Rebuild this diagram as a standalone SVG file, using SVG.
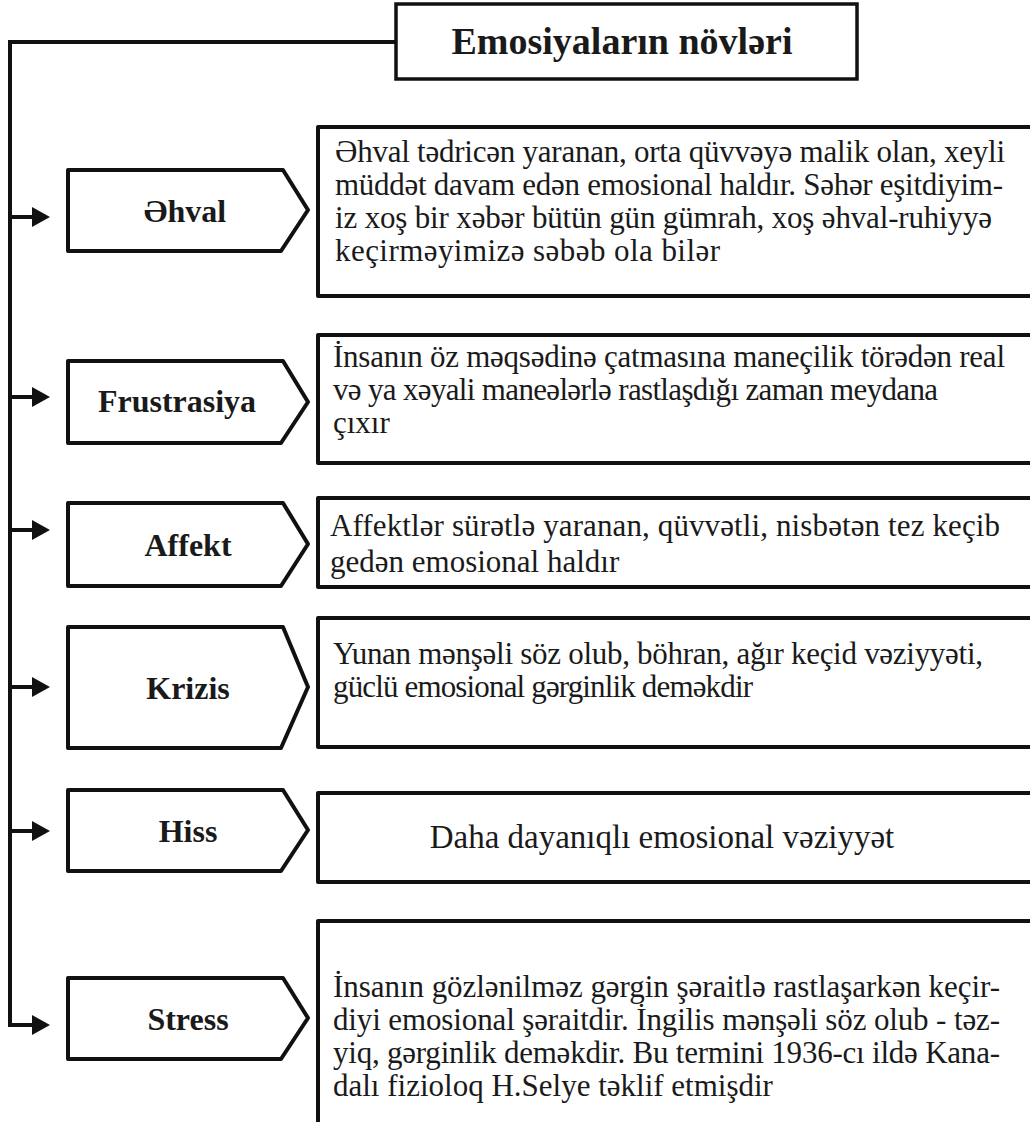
<svg xmlns="http://www.w3.org/2000/svg" width="1030" height="1122" viewBox="0 0 1030 1122">
<style>
  .box { fill: #fff; stroke: #111; stroke-width: 4; stroke-linejoin: round; }
  .title { fill: #fff; stroke: #111; stroke-width: 3.5; }
  .conn { fill: none; stroke: #111; stroke-width: 4; stroke-linejoin: miter; }
  .head { fill: #111; stroke: none; }
  .lbl { font-family: "Liberation Serif", "Times New Roman", serif; font-weight: bold; font-size: 32px; fill: #1a1a1a; text-anchor: middle; }
  .ttl { font-family: "Liberation Serif", "Times New Roman", serif; font-weight: bold; font-size: 38px; fill: #1a1a1a; text-anchor: middle; }
  .desc { font-family: "Liberation Serif", "Times New Roman", Times, serif; font-weight: 400; font-size: 31px; fill: #1a1a1a; }
  .big { font-size: 33px; }
</style>
<rect width="1030" height="1122" fill="#fff"/>

<g id="connectors">
  <path class="conn" d="M396,42 H10 V1025 H34"/>
  <path class="conn" d="M10,217 H34 M10,397 H34 M10,530 H34 M10,687 H34 M10,831 H34"/>
  <polygon class="head" points="32,207 50,217 32,227"/>
  <polygon class="head" points="32,387 50,397 32,407"/>
  <polygon class="head" points="32,520 50,530 32,540"/>
  <polygon class="head" points="32,677 50,687 32,697"/>
  <polygon class="head" points="32,821 50,831 32,841"/>
  <polygon class="head" points="32,1015 50,1025 32,1035"/>
</g>

<g id="title">
  <rect class="title" x="396" y="4" width="461" height="75"/>
  <text class="ttl" x="622" y="54">Emosiyaların növləri</text>
</g>

<g id="ehval">
  <path class="box" d="M68,170 H283 L308,210 L281,251 H68 Z"/>
  <text class="lbl" x="185" y="222">Əhval</text>
</g>
<g id="ehval-desc">
  <rect class="box" x="318" y="127" width="720" height="169"/>
  <text class="desc" x="335" y="162" textLength="670">Əhval tədricən yaranan, orta qüvvəyə malik olan, xeyli</text>
  <text class="desc" x="335" y="195" textLength="668">müddət davam edən emosional haldır. Səhər eşitdiyim-</text>
  <text class="desc" x="335" y="228" textLength="657">iz xoş bir xəbər bütün gün gümrah, xoş əhval-ruhiyyə</text>
  <text class="desc" x="335" y="261" textLength="385">keçirməyimizə səbəb ola bilər</text>
</g>

<g id="frustrasiya">
  <path class="box" d="M68,361 H283 L308,402 L281,443 H68 Z"/>
  <text class="lbl" x="177" y="412">Frustrasiya</text>
</g>
<g id="frustrasiya-desc">
  <rect class="box" x="318" y="335" width="720" height="128"/>
  <text class="desc" x="333" y="367" textLength="672">İnsanın öz məqsədinə çatmasına maneçilik törədən real</text>
  <text class="desc" x="333" y="400" textLength="605">və ya xəyali maneələrlə rastlaşdığı zaman meydana</text>
  <text class="desc" x="333" y="433">çıxır</text>
</g>

<g id="affekt">
  <path class="box" d="M68,503 H283 L308,544 L281,586 H68 Z"/>
  <text class="lbl" x="188" y="556">Affekt</text>
</g>
<g id="affekt-desc">
  <rect class="box" x="318" y="498" width="720" height="89"/>
  <text class="desc" x="330" y="536" textLength="670">Affektlər sürətlə yaranan, qüvvətli, nisbətən tez keçib</text>
  <text class="desc" x="330" y="572">gedən emosional haldır</text>
</g>

<g id="krizis">
  <path class="box" d="M68,627 H283 L308,687 L281,748 H68 Z"/>
  <text class="lbl" x="188" y="699">Krizis</text>
</g>
<g id="krizis-desc">
  <rect class="box" x="318" y="618" width="720" height="129"/>
  <text class="desc" x="333" y="664" textLength="650">Yunan mənşəli söz olub, böhran, ağır keçid vəziyyəti,</text>
  <text class="desc" x="333" y="697" textLength="420">güclü emosional gərginlik deməkdir</text>
</g>

<g id="hiss">
  <path class="box" d="M68,790 H283 L308,830 L281,871 H68 Z"/>
  <text class="lbl" x="188" y="842">Hiss</text>
</g>
<g id="hiss-desc">
  <rect class="box" x="318" y="793" width="720" height="89"/>
  <text class="desc big" x="662" y="848" text-anchor="middle">Daha dayanıqlı emosional vəziyyət</text>
</g>

<g id="stress">
  <path class="box" d="M68,978 H283 L308,1018 L281,1059 H68 Z"/>
  <text class="lbl" x="188" y="1030">Stress</text>
</g>
<g id="stress-desc">
  <rect class="box" x="318" y="921" width="720" height="220"/>
  <text class="desc" x="333" y="997" textLength="667">İnsanın gözlənilməz gərgin şəraitlə rastlaşarkən keçir-</text>
  <text class="desc" x="333" y="1030" textLength="667">diyi emosional şəraitdir. İngilis mənşəli söz olub - təz-</text>
  <text class="desc" x="333" y="1063" textLength="667">yiq, gərginlik deməkdir. Bu termini 1936-cı ildə Kana-</text>
  <text class="desc" x="333" y="1096">dalı fizioloq H.Selye təklif etmişdir</text>
</g>
</svg>
